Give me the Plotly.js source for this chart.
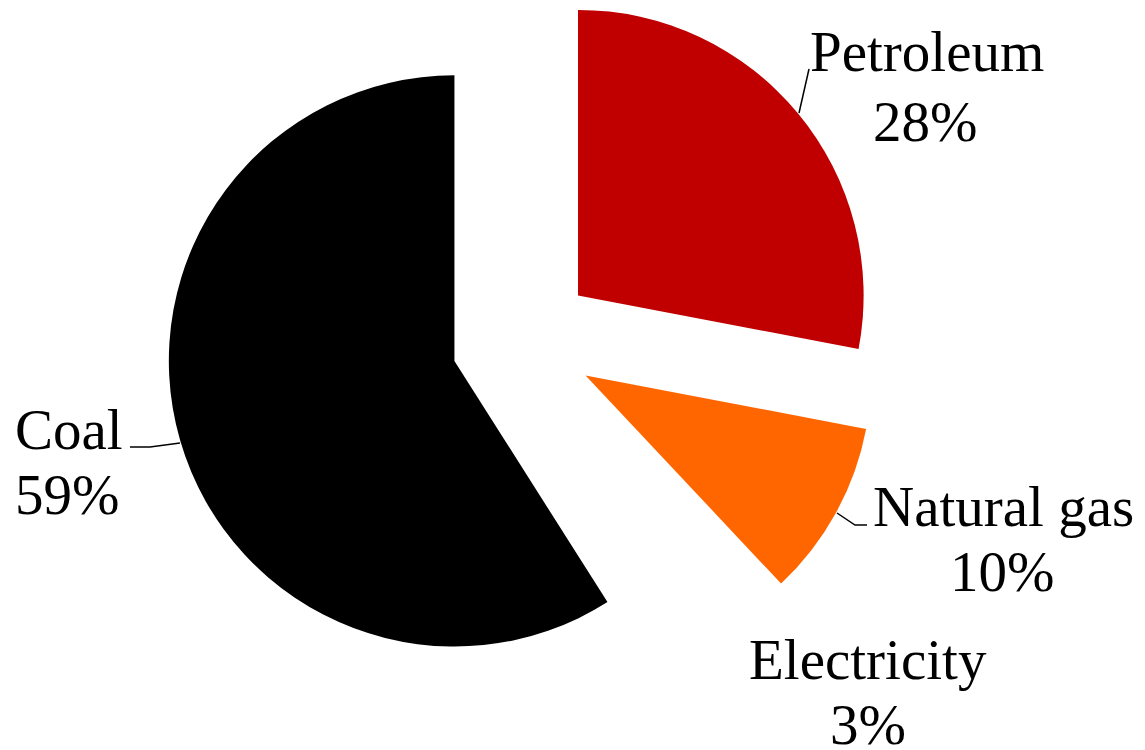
<!DOCTYPE html>
<html>
<head>
<meta charset="utf-8">
<script src="https://cdn.plot.ly/plotly-3.0.1.min.js"></script>
<style>
  html, body { margin: 0; padding: 0; background: #fff; overflow: hidden; }
  #chart { position: absolute; left: 0; top: -30px; width: 1145px; height: 780px; }
</style>
</head>
<body>
<div id="chart"></div>
<script>
// ---- data ----
const labels = ["Petroleum", "Natural gas", "Electricity", "Coal"];
const values = [28, 10, 3, 59];
const colors = ["#C00000", "#FF6600", "#FFFFFF", "#000000"];

// ---- layout helpers (page pixel -> paper coords) ----
const OFFSET = 30, M = {l: 166, r: 265, t: 14, b: 52};
const PW = 1145 - M.l - M.r, PH = 780 - M.t - M.b;
const px = x => (x - M.l) / PW;
const py = y => 1 - (y + OFFSET - M.t) / PH;

// label anchor positions (page px): [nameX, nameBaseline, pctX, pctBaseline]
const labelPos = [
  [927, 70, 925, 140],
  [1003, 525, 1002, 590],
  [868, 678, 868, 743],
  [69, 448, 67, 513]
];
// leader lines (page px)
const leaders = [
  [[799, 113], [809, 69]],
  [[837, 513], [855, 525], [867, 525]],
  null,
  [[130, 447], [150, 447], [180, 443]]
];

const total = values.reduce((a, b) => a + b, 0);
const FONT = {family: "Liberation Serif, Times New Roman, serif", size: 57, color: "#000"};
const annotations = [];
const shapes = [];
labels.forEach((lab, i) => {
  const p = labelPos[i];
  const pct = Math.round(values[i] / total * 100) + "%";
  annotations.push({text: lab, xref: "paper", yref: "paper", x: px(p[0]), y: py(p[1] - 19),
    xanchor: "center", yanchor: "middle", showarrow: false, font: FONT});
  annotations.push({text: pct, xref: "paper", yref: "paper", x: px(p[2]), y: py(p[3] - 19),
    xanchor: "center", yanchor: "middle", showarrow: false, font: FONT});
  if (leaders[i]) {
    const path = leaders[i].map((pt, k) => (k ? "L" : "M") + px(pt[0]) + "," + py(pt[1])).join(" ");
    shapes.push({type: "path", xref: "paper", yref: "paper", path: path,
      line: {color: "#000", width: 1.5}});
  }
});

const trace = {
  type: "pie",
  labels: labels,
  values: values,
  sort: false,
  direction: "clockwise",
  rotation: 0,
  pull: [0.25, 0.25, 0.25, 0.25],
  marker: {colors: colors, line: {width: 0}},
  textinfo: "none",
  hoverinfo: "none",
  showlegend: false
};

const layout = {
  width: 1145,
  height: 780,
  margin: M,
  paper_bgcolor: "#fff",
  plot_bgcolor: "#fff",
  showlegend: false,
  annotations: annotations,
  shapes: shapes
};

Plotly.newPlot("chart", [trace], layout, {displayModeBar: false, staticPlot: true});
</script>
</body>
</html>
